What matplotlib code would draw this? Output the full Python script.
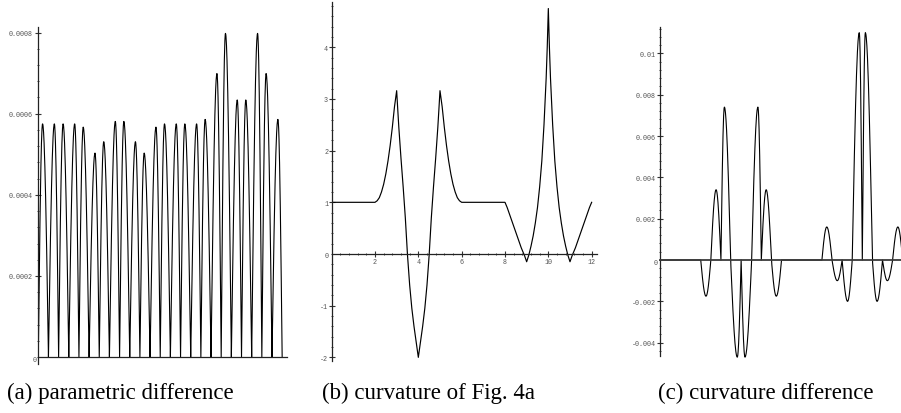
import numpy as np
import matplotlib
matplotlib.use("Agg")
import matplotlib.pyplot as plt
from matplotlib.ticker import FixedLocator, MultipleLocator, NullLocator

# ---------------- data ----------------
# (a) parametric difference: arches between consecutive zeros
a_zeros = [0.0, 0.5, 1.0, 1.5, 2.0, 2.5, 3.0, 3.5, 4.0, 4.5, 5.0, 5.5, 6.0,
           6.5, 7.0, 7.5, 8.0, 8.5, 9.0, 9.5, 10.0, 10.5, 11.0, 11.5, 12.0]
a_peak_x = [0.21, 0.79, 1.22, 1.79, 2.21, 2.79, 3.22, 3.79, 4.21, 4.78, 5.21, 5.79,
            6.21, 6.79, 7.21, 7.79, 8.21, 8.79, 9.21, 9.79, 10.21, 10.79, 11.21, 11.79]
a_peak_y = [0.000575, 0.000575, 0.000575, 0.000575, 0.000567, 0.000503,
            0.000531, 0.000581, 0.000581, 0.000531, 0.000503, 0.000567,
            0.000575, 0.000575, 0.000575, 0.000575, 0.000586, 0.000699,
            0.000798, 0.000634, 0.000634, 0.000798, 0.000699, 0.000586]

# (b) curvature of Fig. 4a
b_x = [0.0, 2.0, 2.1, 2.2, 2.3, 2.4, 2.5, 2.6, 2.7, 2.8, 2.9, 3.0,
       3.05, 3.1, 3.2, 3.3, 3.4, 3.5, 3.6, 3.7, 3.8, 3.9, 4.0,
       4.1, 4.2, 4.3, 4.4, 4.5, 4.6, 4.7, 4.8, 4.9, 4.95, 5.0,
       5.1, 5.2, 5.3, 5.4, 5.5, 5.6, 5.7, 5.8, 5.9, 6.0,
       8.0, 8.1, 8.25, 8.4, 8.5, 8.6, 8.75, 8.9, 9.0,
       9.1, 9.2, 9.3, 9.4, 9.5, 9.6, 9.7, 9.8, 9.9, 9.95, 10.0,
       10.05, 10.1, 10.2, 10.3, 10.4, 10.5, 10.6, 10.7, 10.8, 10.9, 11.0,
       11.1, 11.25, 11.4, 11.5, 11.6, 11.75, 11.9, 12.0]
b_y = [1.0, 1.0, 1.03, 1.09, 1.2, 1.35, 1.55, 1.8, 2.1, 2.45, 2.85, 3.16,
       2.8, 2.45, 1.85, 1.3, 0.7, -0.02, -0.6, -1.05, -1.4, -1.7, -2.0,
       -1.7, -1.4, -1.05, -0.6, -0.02, 0.7, 1.3, 1.85, 2.45, 2.8, 3.16,
       2.85, 2.45, 2.1, 1.8, 1.55, 1.35, 1.2, 1.09, 1.03, 1.0,
       1.0, 0.9, 0.72, 0.54, 0.42, 0.3, 0.12, -0.03, -0.15,
       -0.02, 0.15, 0.35, 0.6, 0.9, 1.3, 1.8, 2.5, 3.4, 4.0, 4.75,
       4.0, 3.4, 2.5, 1.8, 1.3, 0.9, 0.6, 0.35, 0.15, -0.02, -0.15,
       -0.03, 0.12, 0.3, 0.42, 0.54, 0.72, 0.9, 1.0]

# (c) curvature difference: lobes (start, end, extremum position, extremum value)
c_start = [2.0, 2.5, 3.0, 3.48, 4.0, 4.52, 5.0, 5.5,
           8.0, 8.5, 9.0, 9.5, 10.0, 10.5, 11.0, 11.5]
c_end = [2.5, 3.0, 3.48, 4.0, 4.52, 5.0, 5.5, 6.0,
         8.5, 9.0, 9.5, 10.0, 10.5, 11.0, 11.5, 12.0]
c_peak_x = [2.26, 2.76, 3.17, 3.81, 4.19, 4.83, 5.24, 5.74,
            8.24, 8.76, 9.27, 9.85, 10.15, 10.73, 11.24, 11.76]
c_peak_y = [-0.00175, 0.0034, 0.0074, -0.0047, -0.0047, 0.0074, 0.0034, -0.00175,
            0.0016, -0.001, -0.002, 0.011, 0.011, -0.002, -0.001, 0.0016]

# tick labels
a_yticks = [0.0002, 0.0004, 0.0006, 0.0008]
a_ylabels = ["0.0002", "0.0004", "0.0006", "0.0008"]
b_xticks = [2, 4, 6, 8, 10, 12]
b_xlabels = ["2", "4", "6", "8", "10", "12"]
b_yticks = [-2, -1, 1, 2, 3, 4]
b_ylabels = ["-2", "-1", "1", "2", "3", "4"]
c_yticks = [-0.004, -0.002, 0.002, 0.004, 0.006, 0.008, 0.01]
c_ylabels = ["-0.004", "-0.002", "0.002", "0.004", "0.006", "0.008", "0.01"]
captions = ["(a) parametric difference", "(b) curvature of Fig. 4a",
            "(c) curvature difference"]

# ---------------- helpers ----------------
U = np.linspace(0.0, 1.0, 24)
RISE = np.sin(0.5 * np.pi * U)  # quarter-sine shape used for each half lobe


def lobe(s, p, e, h):
    xl = s + (p - s) * U
    yl = h * RISE
    xr = p + (e - p) * U
    yr = h * RISE[::-1]
    return np.concatenate([xl, xr[1:]]), np.concatenate([yl, yr[1:]])


TICK_FONT = dict(family="Liberation Mono", size=4.9)
TICK_COLOR = "#555555"


def style_axes(ax, ypad, xpad=1.0):
    for s in ["top", "right"]:
        ax.spines[s].set_visible(False)
    ax.spines["left"].set_position(("data", 0))
    ax.spines["bottom"].set_position(("data", 0))
    for s in ["left", "bottom"]:
        ax.spines[s].set_linewidth(0.9)
        ax.spines[s].set_color("#222222")
    ax.tick_params(which="major", direction="inout", length=4.0, width=0.8,
                   color="#333333", labelcolor=TICK_COLOR)
    ax.tick_params(which="minor", direction="inout", length=2.0, width=0.7,
                   color="#444444")
    ax.tick_params(axis="y", which="major", pad=ypad)
    ax.tick_params(axis="x", which="major", pad=xpad)
    ax.patch.set_visible(False)


fig = plt.figure(figsize=(9.01, 4.14), dpi=100)

# ---------------- (a) ----------------
axa = fig.add_axes([0.0425, 0.1184, 0.2763, 0.8132])
xs, ys = [], []
for i in range(len(a_peak_x)):
    lx, ly = lobe(a_zeros[i], a_peak_x[i], a_zeros[i + 1], a_peak_y[i])
    xs.append(lx)
    ys.append(ly)
axa.plot(np.concatenate(xs), np.concatenate(ys), color="black", lw=0.8)
axa.set_xlim(0, 12.25)
axa.set_ylim(-0.000017, 0.000813)
style_axes(axa, ypad=2.4)
axa.xaxis.set_major_locator(NullLocator())
axa.yaxis.set_major_locator(FixedLocator(a_yticks))
axa.set_yticklabels(a_ylabels, fontdict=TICK_FONT)
axa.yaxis.set_minor_locator(MultipleLocator(0.00004))
axa.annotate("0", (0, 0), xytext=(-2.6, -2.0), textcoords="offset points",
             ha="center", va="center", color=TICK_COLOR,
             fontfamily="Liberation Mono", fontsize=4.9)

# ---------------- (b) ----------------
axb = fig.add_axes([0.3681, 0.1263, 0.2941, 0.8657])
axb.plot(b_x, b_y, color="black", lw=0.85)
axb.set_xlim(0, 12.23)
axb.set_ylim(-2.065, 4.87)
style_axes(axb, ypad=0.6, xpad=1.1)
axb.xaxis.set_major_locator(FixedLocator(b_xticks))
axb.set_xticklabels(b_xlabels, fontdict=TICK_FONT)
axb.xaxis.set_minor_locator(MultipleLocator(0.4))
axb.yaxis.set_major_locator(FixedLocator(b_yticks))
axb.set_yticklabels(b_ylabels, fontdict=TICK_FONT)
axb.yaxis.set_minor_locator(MultipleLocator(0.2))
axb.annotate("0", (0, 0), xytext=(-3.4, -1.3), textcoords="offset points",
             ha="center", va="center", color=TICK_COLOR,
             fontfamily="Liberation Mono", fontsize=4.9)

# ---------------- (c) ----------------
axc = fig.add_axes([0.7329, 0.1384, 0.2802, 0.7932])
cx, cy = [np.array([0.0])], [np.array([0.0])]
for i in range(len(c_start)):
    if i > 0 and c_start[i] > c_end[i - 1]:
        cx.append(np.array([c_end[i - 1], c_start[i]]))
        cy.append(np.array([0.0, 0.0]))
    lx, ly = lobe(c_start[i], c_peak_x[i], c_end[i], c_peak_y[i])
    cx.append(lx)
    cy.append(ly)
axc.plot(np.concatenate(cx), np.concatenate(cy), color="black", lw=0.8, clip_on=False)
axc.set_xlim(0, 12.5)
axc.set_ylim(-0.00463, 0.01126)
style_axes(axc, ypad=1.2)
axc.spines["bottom"].set_linewidth(1.3)
axc.spines["bottom"].set_color("#3a3a3a")
axc.xaxis.set_major_locator(NullLocator())
axc.yaxis.set_major_locator(FixedLocator(c_yticks))
axc.set_yticklabels(c_ylabels, fontdict=TICK_FONT)
axc.yaxis.set_minor_locator(MultipleLocator(0.0004))
axc.annotate("0", (0, 0), xytext=(-3.2, -1.7), textcoords="offset points",
             ha="center", va="center", color=TICK_COLOR,
             fontfamily="Liberation Mono", fontsize=4.9)

# ---------------- captions ----------------
for xc, txt in zip([120 / 901, 428 / 901, 766 / 901], captions):
    fig.text(xc, 0.050, txt, ha="center", va="center",
             family="Liberation Serif", fontsize=16.5, color="black")

fig.savefig("out.png", dpi=100)
